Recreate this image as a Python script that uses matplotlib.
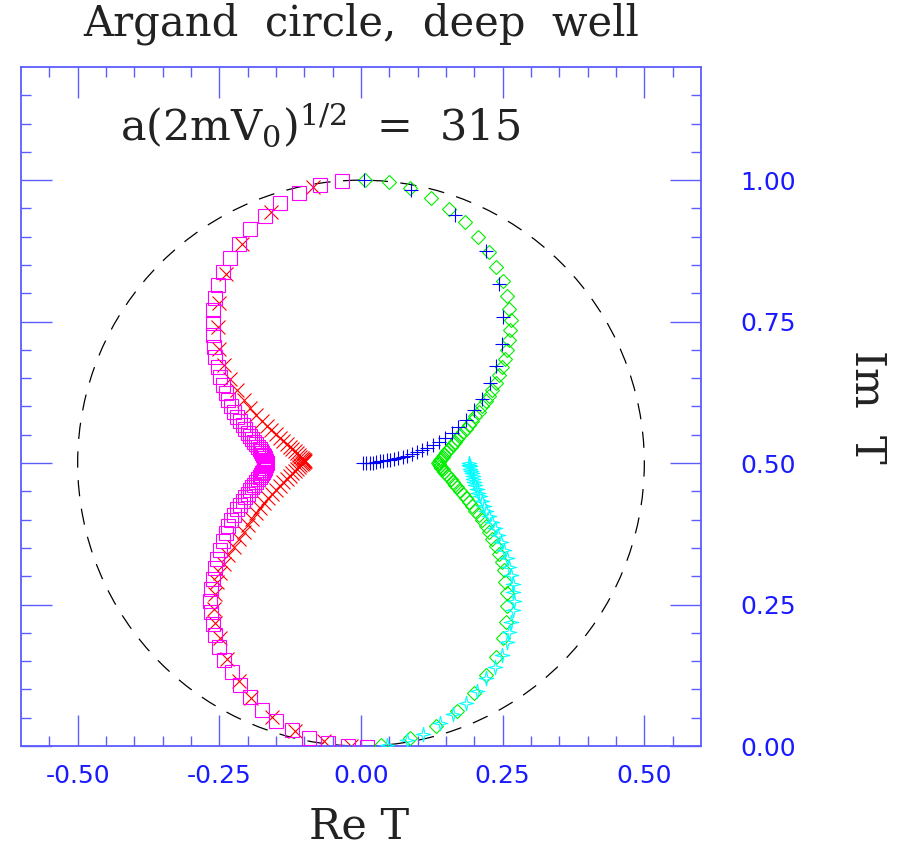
import numpy as np
import matplotlib
matplotlib.use("Agg")
import matplotlib.pyplot as plt
from matplotlib.patches import Circle

# ---- data (Re T, Im T) ----
mag_re = [-0.033, -0.072, -0.109, -0.143, -0.170, -0.196, -0.215, -0.231, -0.243, -0.252,
          -0.258, -0.261, -0.262, -0.262, -0.260, -0.257, -0.253, -0.249, -0.244, -0.239,
          -0.234, -0.229, -0.224, -0.219, -0.214, -0.209, -0.204, -0.200, -0.196, -0.192,
          -0.188, -0.185, -0.182, -0.179, -0.177, -0.175, -0.173, -0.171, -0.170, -0.169,
          -0.168, -0.167, -0.166, -0.167, -0.168, -0.169, -0.170, -0.171, -0.173, -0.175,
          -0.177, -0.179, -0.182, -0.185, -0.188, -0.192, -0.196, -0.200, -0.204, -0.209,
          -0.214, -0.219, -0.224, -0.229, -0.234, -0.239, -0.244, -0.249, -0.254, -0.258,
          -0.262, -0.265, -0.266, -0.265, -0.262, -0.258, -0.251, -0.241, -0.228, -0.213,
          -0.196, -0.175, -0.150, -0.121, -0.091, -0.059, -0.023, 0.011]
mag_im = [0.999, 0.991, 0.978, 0.959, 0.937, 0.913, 0.888, 0.863, 0.838, 0.814,
          0.791, 0.770, 0.748, 0.727, 0.706, 0.687, 0.669, 0.653, 0.638, 0.624,
          0.612, 0.601, 0.591, 0.582, 0.574, 0.567, 0.560, 0.554, 0.548, 0.543,
          0.538, 0.533, 0.529, 0.525, 0.521, 0.518, 0.515, 0.512, 0.509, 0.506,
          0.504, 0.502, 0.500, 0.498, 0.496, 0.494, 0.491, 0.488, 0.485, 0.482,
          0.479, 0.475, 0.471, 0.467, 0.462, 0.457, 0.452, 0.446, 0.440, 0.433,
          0.426, 0.418, 0.409, 0.399, 0.388, 0.376, 0.362, 0.347, 0.331, 0.314,
          0.296, 0.277, 0.257, 0.237, 0.216, 0.196, 0.175, 0.152, 0.130, 0.108,
          0.086, 0.064, 0.044, 0.028, 0.015, 0.005, 0.000, -0.001]

red_re = [-0.085, -0.159, -0.210, -0.238, -0.250, -0.253, -0.250, -0.241, -0.231, -0.219,
          -0.207, -0.196, -0.185, -0.175, -0.166, -0.158, -0.150, -0.143, -0.137, -0.131,
          -0.126, -0.121, -0.117, -0.113, -0.110, -0.107, -0.105, -0.103, -0.101, -0.100,
          -0.099, -0.100, -0.101, -0.103, -0.105, -0.107, -0.110, -0.113, -0.117, -0.121,
          -0.126, -0.131, -0.137, -0.143, -0.150, -0.157, -0.164, -0.171, -0.178, -0.185,
          -0.192, -0.199, -0.207, -0.216, -0.225, -0.234, -0.242, -0.249, -0.254, -0.258,
          -0.260, -0.257, -0.248, -0.237, -0.216, -0.194, -0.157, -0.117, -0.065, -0.018]
red_im = [0.988, 0.943, 0.888, 0.834, 0.783, 0.741, 0.701, 0.673, 0.648, 0.629,
          0.611, 0.597, 0.585, 0.575, 0.566, 0.558, 0.551, 0.545, 0.539, 0.534,
          0.529, 0.525, 0.521, 0.517, 0.514, 0.511, 0.509, 0.507, 0.506, 0.505,
          0.504, 0.503, 0.502, 0.500, 0.498, 0.496, 0.493, 0.490, 0.486, 0.482,
          0.477, 0.472, 0.466, 0.460, 0.453, 0.446, 0.438, 0.430, 0.421, 0.412,
          0.401, 0.390, 0.378, 0.365, 0.351, 0.337, 0.322, 0.306, 0.289, 0.268,
          0.243, 0.217, 0.190, 0.153, 0.114, 0.084, 0.052, 0.027, 0.008, 0.000]

grn_re = [0.007, 0.049, 0.086, 0.123, 0.156, 0.184, 0.206, 0.226, 0.239, 0.250,
          0.257, 0.262, 0.264, 0.263, 0.261, 0.258, 0.254, 0.249, 0.244, 0.238,
          0.232, 0.226, 0.220, 0.214, 0.208, 0.202, 0.196, 0.190, 0.185, 0.180,
          0.175, 0.170, 0.166, 0.162, 0.158, 0.154, 0.150, 0.147, 0.144, 0.141,
          0.139, 0.137, 0.136, 0.137, 0.139, 0.141, 0.144, 0.147, 0.150, 0.154,
          0.158, 0.162, 0.166, 0.170, 0.175, 0.180, 0.185, 0.190, 0.196, 0.202,
          0.208, 0.214, 0.220, 0.226, 0.232, 0.238, 0.243, 0.248, 0.252, 0.254,
          0.257, 0.258, 0.256, 0.250, 0.238, 0.221, 0.200, 0.170, 0.132, 0.086, 0.036]
grn_im = [1.001, 0.996, 0.986, 0.969, 0.949, 0.926, 0.900, 0.873, 0.846, 0.821,
          0.795, 0.773, 0.753, 0.735, 0.717, 0.700, 0.684, 0.669, 0.655, 0.642,
          0.630, 0.619, 0.609, 0.600, 0.591, 0.583, 0.575, 0.568, 0.561, 0.555,
          0.549, 0.543, 0.538, 0.533, 0.528, 0.523, 0.519, 0.515, 0.511, 0.508,
          0.505, 0.502, 0.500, 0.498, 0.495, 0.492, 0.489, 0.485, 0.481, 0.477,
          0.472, 0.467, 0.462, 0.457, 0.451, 0.445, 0.438, 0.431, 0.424, 0.416,
          0.408, 0.399, 0.389, 0.378, 0.366, 0.353, 0.339, 0.325, 0.311, 0.290,
          0.270, 0.247, 0.220, 0.190, 0.158, 0.125, 0.093, 0.061, 0.035, 0.015, 0.001]

blu_re = [0.005, 0.089, 0.166, 0.220, 0.244, 0.251, 0.248, 0.239, 0.227, 0.213,
          0.199, 0.185, 0.171, 0.160, 0.148, 0.138, 0.127, 0.117, 0.108, 0.099,
          0.090, 0.082, 0.074, 0.066, 0.059, 0.052, 0.045, 0.039, 0.033, 0.027,
          0.021, 0.015, 0.009, 0.003]
blu_im = [1.000, 0.983, 0.939, 0.875, 0.816, 0.758, 0.711, 0.671, 0.641, 0.614,
          0.594, 0.577, 0.564, 0.553, 0.544, 0.537, 0.532, 0.527, 0.523, 0.519,
          0.516, 0.513, 0.511, 0.509, 0.507, 0.506, 0.505, 0.504, 0.503, 0.502,
          0.501, 0.501, 0.500, 0.500]

cya_re = [0.191, 0.191, 0.192, 0.193, 0.194, 0.195, 0.197, 0.198, 0.200, 0.202,
          0.204, 0.207, 0.210, 0.213, 0.217, 0.221, 0.226, 0.231, 0.236, 0.241,
          0.247, 0.252, 0.257, 0.262, 0.265, 0.268, 0.269, 0.270, 0.268, 0.265,
          0.262, 0.257, 0.249, 0.237, 0.221, 0.205, 0.186, 0.163, 0.139, 0.110,
          0.081, 0.045]
cya_im = [0.500, 0.497, 0.494, 0.490, 0.486, 0.482, 0.477, 0.472, 0.467, 0.461,
          0.455, 0.448, 0.441, 0.433, 0.425, 0.416, 0.406, 0.396, 0.385, 0.373,
          0.360, 0.346, 0.332, 0.317, 0.302, 0.287, 0.272, 0.257, 0.240, 0.220,
          0.202, 0.184, 0.160, 0.140, 0.120, 0.098, 0.076, 0.057, 0.040, 0.022,
          0.011, 0.002]

frame_col = '#5c5cff'
lab_col = '#1a1aff'
txt_col = '#222222'

fig = plt.figure(figsize=(8.98, 8.47), dpi=100)
ax = fig.add_axes([21/898, 101/847, 680/898, 679/847])
ax.set_xlim(-0.6, 0.6)
ax.set_ylim(0, 1.2)

# unitarity circle
ax.add_patch(Circle((0, 0.5), 0.5, fill=False, ec='black', lw=0.9,
                    ls=(0, (13, 10)), zorder=1))

star = [(0, 1), (0.18, 0.18), (1, 0), (0.18, -0.18), (0, -1),
        (-0.18, -0.18), (-1, 0), (-0.18, 0.18), (0, 1)]

ax.plot(red_re, red_im, ls='none', marker='x', ms=10.5, mew=0.8, color='red', zorder=2)
ax.plot(mag_re, mag_im, ls='none', marker='s', ms=10.5, mew=0.8, mfc='none',
        mec='#ff00ff', zorder=3)
ax.plot(grn_re, grn_im, ls='none', marker='D', ms=6.8, mew=0.8, mfc='none',
        mec='#00ee00', zorder=3)
ax.plot(blu_re, blu_im, ls='none', marker='+', ms=10.5, mew=0.8, color='blue', zorder=4)
ax.plot(cya_re, cya_im, ls='none', marker=star, ms=10.5, mew=0.8, mfc='none',
        mec='#00ffff', zorder=4)

ax.set_xticks([-0.5, -0.25, 0, 0.25, 0.5])
ax.set_xticks(np.arange(-0.55, 0.6, 0.05), minor=True)
ax.set_yticks([0, 0.25, 0.5, 0.75, 1.0])
ax.set_yticks(np.arange(0.05, 1.2, 0.05), minor=True)
ax.xaxis.set_major_formatter(plt.FormatStrFormatter('%.2f'))
ax.yaxis.set_major_formatter(plt.FormatStrFormatter('%.2f'))

ax.tick_params(which='both', direction='in', top=True, right=True, left=True, bottom=True,
               labelleft=False, labelright=True, color=frame_col, width=1.0)
ax.tick_params(which='major', length=22)
ax.tick_params(which='minor', length=7)
ax.tick_params(axis='x', which='major', labelsize=18, labelcolor=lab_col, pad=13)
ax.tick_params(axis='y', which='major', labelsize=18, labelcolor=lab_col, pad=28)
for s in ax.spines.values():
    s.set_color(frame_col)
    s.set_linewidth(1.3)

serif = 'DejaVu Serif'
plt.rcParams['mathtext.fontset'] = 'dejavuserif'
fig.text(361/898, 1 - 24/847, 'Argand  circle,  deep  well', ha='center', va='center',
         fontsize=30, family=serif, color=txt_col)
ax.text(-0.425, 1.071, r'a(2mV$_0$)$^{1/2}$  =  315', ha='left', va='baseline',
        fontsize=31, family=serif, color=txt_col)
fig.text(359/898, 1 - 826/847, 'Re T', ha='center', va='center',
         fontsize=31, family=serif, color=txt_col)
fig.text(867/898, 1 - 407/847, 'Im  T', ha='center', va='center', rotation=-90,
         fontsize=31, family=serif, color=txt_col)

fig.savefig('out.png', dpi=100)
